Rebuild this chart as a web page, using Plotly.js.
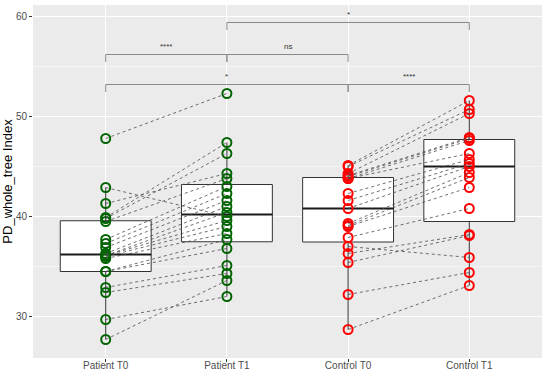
<!DOCTYPE html>
<html>
<head>
<meta charset="utf-8">
<script src="https://cdn.plot.ly/plotly-3.0.1.min.js"></script>
<style>html,body{margin:0;padding:0;background:#fff}#chart{width:550px;height:374px}</style>
</head>
<body>
<div id="chart"></div>
<script>
// ---- data ----
const categories = ['Patient T0', 'Patient T1', 'Control T0', 'Control T1'];
// paired values: index i in T0 is the same subject as index i in T1
const patientT0 = [47.8, 42.9, 41.3, 39.9, 39.8, 39.5, 37.7, 37.3, 36.9, 36.3, 36.1, 36.1, 36.0, 35.8, 34.5, 34.5, 32.9, 32.4, 29.7, 27.7];
const patientT1 = [52.3, 40.0, 44.3, 47.4, 46.3, 43.8, 43.0, 42.3, 41.6, 41.0, 40.4, 39.6, 39.0, 38.3, 37.7, 36.8, 35.1, 34.3, 32.0, 33.6];
const controlT0 = [45.1, 45.0, 44.3, 44.1, 44.0, 43.8, 43.8, 42.3, 41.6, 40.8, 39.3, 39.1, 39.0, 37.9, 37.0, 36.3, 35.4, 32.2, 28.7];
const controlT1 = [51.6, 50.7, 50.3, 47.9, 47.8, 47.6, 46.3, 45.7, 45.3, 45.0, 44.4, 43.9, 42.9, 40.8, 35.9, 38.2, 38.1, 34.4, 33.1];
// significance comparisons (category indices) and labels
const compFrom = [0, 1, 0, 2, 1];
const compTo = [1, 2, 2, 3, 3];
const compLabel = ['****', 'ns', '*', '****', '*'];

// ---- styling / layout configuration ----
const groups = [patientT0, patientT1, controlT0, controlT1];
const groupColor = ['#006400', '#006400', '#FF0000', '#FF0000'];
const bracketLevel = [56.2, 56.2, 53.2, 53.2, 59.4];
const bracketTip = 0.75;
const boxWidth = 0.75;

function quantile7(arr, p) {
  const s = arr.slice().sort((a, b) => a - b);
  const h = (s.length - 1) * p;
  const lo = Math.floor(h), hi = Math.ceil(h);
  return s[lo] + (h - lo) * (s[hi] - s[lo]);
}
function boxStats(arr) {
  const q1 = quantile7(arr, 0.25), med = quantile7(arr, 0.5), q3 = quantile7(arr, 0.75);
  const iqr = q3 - q1;
  const inside = arr.filter(v => v >= q1 - 1.5 * iqr && v <= q3 + 1.5 * iqr);
  return {q1, med, q3, lo: Math.min(...inside), hi: Math.max(...inside)};
}

const traces = [];
const stats = groups.map(boxStats);
// boxes (ggplot-style: type-7 quartiles, 1.5 IQR whiskers)
stats.forEach((s, i) => {
  traces.push({
    type: 'box', x: [i], q1: [s.q1], median: [s.med], q3: [s.q3],
    lowerfence: [s.lo], upperfence: [s.hi], width: boxWidth, whiskerwidth: 0,
    fillcolor: '#FFFFFF', line: {color: '#333333', width: 1},
    hoverinfo: 'skip', showlegend: false
  });
});
// thicker median bars
stats.forEach((s, i) => {
  traces.push({
    type: 'scatter', mode: 'lines', x: [i - boxWidth / 2, i + boxWidth / 2], y: [s.med, s.med],
    line: {color: '#1a1a1a', width: 2}, hoverinfo: 'skip', showlegend: false
  });
});
// points
groups.forEach((g, i) => {
  traces.push({
    type: 'scatter', mode: 'markers', x: g.map(() => i), y: g,
    marker: {symbol: 'circle-open', size: 9, color: groupColor[i], line: {width: 2, color: groupColor[i]}},
    hoverinfo: 'skip', showlegend: false
  });
});
// paired dashed lines
[[0, 1], [2, 3]].forEach(([a, b]) => {
  const xs = [], ys = [];
  groups[a].forEach((v, k) => { xs.push(a, b, null); ys.push(v, groups[b][k], null); });
  traces.push({
    type: 'scatter', mode: 'lines', x: xs, y: ys, connectgaps: false,
    line: {color: '#4a4a4a', width: 0.8, dash: '3px,3px'}, hoverinfo: 'skip', showlegend: false
  });
});

const shapes = [], annotations = [];
compFrom.forEach((a, k) => {
  const b = compTo[k], y = bracketLevel[k];
  shapes.push({
    type: 'path', xref: 'x', yref: 'y',
    path: `M ${a} ${y - bracketTip} L ${a} ${y} L ${b} ${y} L ${b} ${y - bracketTip}`,
    line: {color: '#8a8a8a', width: 1}
  });
  annotations.push({
    x: (a + b) / 2, y: y + 0.15, xref: 'x', yref: 'y', text: compLabel[k],
    showarrow: false, yanchor: 'bottom', font: {size: 8, color: '#333333'}
  });
});

const layout = {
  width: 550, height: 374,
  margin: {l: 33, r: 8, t: 5, b: 16, pad: 0},
  paper_bgcolor: '#FFFFFF', plot_bgcolor: '#EBEBEB',
  font: {family: 'Liberation Sans, Arial, sans-serif', color: '#4D4D4D', size: 10},
  showlegend: false,
  xaxis: {
    range: [-0.6, 3.6], tickvals: [0, 1, 2, 3], ticktext: categories,
    showgrid: true, gridcolor: '#FFFFFF', gridwidth: 1, zeroline: false,
    ticks: 'outside', ticklen: 3, tickcolor: '#333333', tickwidth: 1,
    ticklabelstandoff: -5,
    tickfont: {size: 10, color: '#4D4D4D'}, showline: false, automargin: false
  },
  yaxis: {
    range: [25.85, 61.15], tickvals: [30, 40, 50, 60],
    showgrid: true, gridcolor: '#FFFFFF', gridwidth: 1, zeroline: false,
    minor: {tickvals: [35, 45, 55], showgrid: true, gridcolor: '#FFFFFF', gridwidth: 0.5, ticks: ''},
    ticks: 'outside', ticklen: 3, tickcolor: '#333333', tickwidth: 1,
    tickfont: {size: 10, color: '#4D4D4D'}, automargin: false,
    title: {text: 'PD_whole_tree Index', font: {size: 13, color: '#000000'}, standoff: 4}
  },
  shapes: shapes, annotations: annotations
};

Plotly.newPlot('chart', traces, layout, {staticPlot: true, displayModeBar: false});
</script>
</body>
</html>
